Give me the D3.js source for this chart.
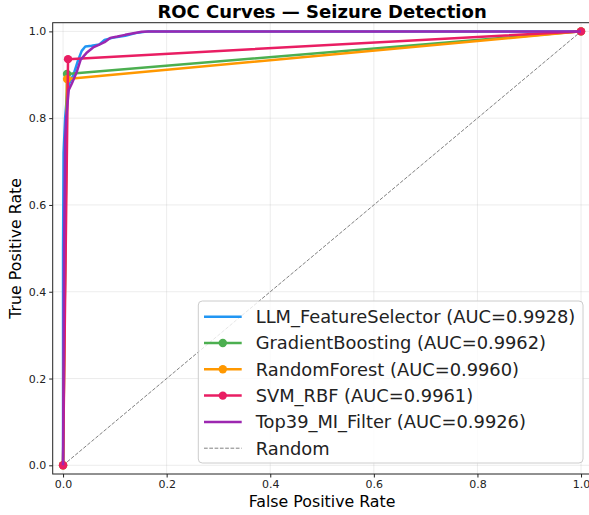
<!DOCTYPE html>
<html>
<head>
<meta charset="utf-8">
<script src="https://cdn.jsdelivr.net/npm/d3@7/dist/d3.min.js"></script>
<style>
  body { margin: 0; background: #fff; }
  text { font-family: "DejaVu Sans", sans-serif; }
</style>
</head>
<body>
<div id="chart"></div>
<script>
// model names and AUCs
const models = ["LLM_FeatureSelector", "GradientBoosting", "RandomForest", "SVM_RBF", "Top39_MI_Filter"]
const aucs = [0.9928, 0.9962, 0.9960, 0.9961, 0.9926]
const colors = ["#2196F3", "#4CAF50", "#FF9800", "#E91E63", "#9C27B0"]
const hasMarkers = [false, true, true, true, false]

// ROC points (fpr, tpr)
const llmFpr = [0, 0, 0.001, 0.004, 0.008, 0.012, 0.02, 0.028, 0.036, 0.043, 0.055, 0.07, 0.08, 0.095, 0.12, 0.14, 0.165, 1]
const llmTpr = [0, 0.5, 0.72, 0.8, 0.86, 0.88, 0.9, 0.93, 0.955, 0.965, 0.967, 0.97, 0.98, 0.985, 0.99, 0.996, 1, 1]
const gbFpr = [0, 0.0077, 1]
const gbTpr = [0, 0.902, 1]
const rfFpr = [0, 0.0077, 1]
const rfTpr = [0, 0.89, 1]
const svmFpr = [0, 0.0096, 1]
const svmTpr = [0, 0.936, 1]
const miFpr = [0, 0.002, 0.004, 0.006, 0.011, 0.017, 0.026, 0.034, 0.045, 0.058, 0.069, 0.08, 0.091, 0.105, 0.12, 0.152, 0.165, 1]
const miTpr = [0, 0.5, 0.75, 0.8, 0.865, 0.88, 0.905, 0.935, 0.95, 0.963, 0.969, 0.975, 0.985, 0.988, 0.992, 0.999, 1, 1]

const xTicks = [0, 0.2, 0.4, 0.6, 0.8, 1.0]
const yTicks = [0, 0.2, 0.4, 0.6, 0.8, 1.0]

const curves = [[llmFpr, llmTpr], [gbFpr, gbTpr], [rfFpr, rfTpr], [svmFpr, svmTpr], [miFpr, miTpr]]
  .map((c, i) => ({
    name: models[i], auc: aucs[i], color: colors[i], markers: hasMarkers[i],
    pts: c[0].map((f, j) => [f, c[1][j]])
  }))

const W = 589, H = 515
const MARGIN = { TOP: 22.7, LEFT: 52.7, RIGHT: 591.4, BOTTOM: 474 }

const svg = d3.select("#chart").append("svg")
  .attr("width", W).attr("height", H)

const x = d3.scaleLinear().domain([-0.02, 1.02]).range([MARGIN.LEFT, MARGIN.RIGHT])
const y = d3.scaleLinear().domain([-0.02, 1.02]).range([MARGIN.BOTTOM, MARGIN.TOP])

// grid
svg.append("g").selectAll("line").data(xTicks).join("line")
  .attr("x1", d => x(d)).attr("x2", d => x(d))
  .attr("y1", MARGIN.TOP).attr("y2", MARGIN.BOTTOM)
  .attr("stroke", "#b0b0b0").attr("stroke-opacity", 0.3).attr("stroke-width", 0.8)
svg.append("g").selectAll("line").data(yTicks).join("line")
  .attr("y1", d => y(d)).attr("y2", d => y(d))
  .attr("x1", MARGIN.LEFT).attr("x2", MARGIN.RIGHT)
  .attr("stroke", "#b0b0b0").attr("stroke-opacity", 0.3).attr("stroke-width", 0.8)

const plot = svg.append("g")

// random diagonal
plot.append("line")
  .attr("x1", x(0)).attr("y1", y(0)).attr("x2", x(1)).attr("y2", y(1))
  .attr("stroke", "#808080").attr("stroke-width", 1)
  .attr("stroke-dasharray", "3.7,1.6")

const line = d3.line().x(d => x(d[0])).y(d => y(d[1]))

curves.forEach(c => {
  plot.append("path")
    .attr("d", line(c.pts))
    .attr("fill", "none")
    .attr("stroke", c.color)
    .attr("stroke-width", 2.5)
    .attr("stroke-linejoin", "round")
  if (c.markers) {
    plot.selectAll(null).data(c.pts).join("circle")
      .attr("cx", d => x(d[0])).attr("cy", d => y(d[1]))
      .attr("r", 4.2).attr("fill", c.color)
  }
})

// axes spines
svg.append("rect")
  .attr("x", MARGIN.LEFT).attr("y", MARGIN.TOP)
  .attr("width", MARGIN.RIGHT - MARGIN.LEFT).attr("height", MARGIN.BOTTOM - MARGIN.TOP)
  .attr("fill", "none").attr("stroke", "#222").attr("stroke-width", 1)

const xAxis = svg.append("g")
  .attr("transform", `translate(0,${MARGIN.BOTTOM})`)
  .call(d3.axisBottom(x).tickValues(xTicks).tickFormat(d3.format(".1f")).tickSize(3.5).tickPadding(3))
const yAxis = svg.append("g")
  .attr("transform", `translate(${MARGIN.LEFT},0)`)
  .call(d3.axisLeft(y).tickValues(yTicks).tickFormat(d3.format(".1f")).tickSize(3.5).tickPadding(3))
;[xAxis, yAxis].forEach(a => {
  a.select(".domain").remove()
  a.selectAll("text").attr("font-size", 11).attr("fill", "#222").attr("font-family", "DejaVu Sans")
  a.selectAll("line").attr("stroke", "#222")
})

// titles
svg.append("text")
  .attr("x", (MARGIN.LEFT + MARGIN.RIGHT) / 2).attr("y", 18)
  .attr("text-anchor", "middle").attr("font-size", 18).attr("font-weight", "bold")
  .text("ROC Curves — Seizure Detection")
svg.append("text")
  .attr("x", (MARGIN.LEFT + MARGIN.RIGHT) / 2).attr("y", 507)
  .attr("text-anchor", "middle").attr("font-size", 15.8)
  .text("False Positive Rate")
svg.append("text")
  .attr("transform", `translate(21,${(MARGIN.TOP + MARGIN.BOTTOM) / 2}) rotate(-90)`)
  .attr("text-anchor", "middle").attr("font-size", 15.8)
  .text("True Positive Rate")

// legend
const legend = svg.append("g")
legend.append("rect")
  .attr("x", 198.3).attr("y", 301).attr("width", 384.7).attr("height", 162)
  .attr("rx", 4).attr("fill", "#fff").attr("fill-opacity", 0.8)
  .attr("stroke", "#ccc").attr("stroke-width", 1)

const legendItems = curves.map(c => ({ label: `${c.name} (AUC=${c.auc.toFixed(4)})`, color: c.color, markers: c.markers, dashed: false }))
legendItems.push({ label: "Random", color: "#808080", markers: false, dashed: true })

legendItems.forEach((d, i) => {
  const yy = 316.7 + i * 26.3
  legend.append("line")
    .attr("x1", 204).attr("x2", 241.7).attr("y1", yy).attr("y2", yy)
    .attr("stroke", d.color).attr("stroke-width", d.dashed ? 1 : 2.5)
    .attr("stroke-dasharray", d.dashed ? "3.7,1.6" : null)
  if (d.markers) {
    legend.append("circle").attr("cx", 222.8).attr("cy", yy).attr("r", 4.2).attr("fill", d.color)
  }
  legend.append("text")
    .attr("x", 255.7).attr("y", yy + 6.3)
    .attr("font-size", 17.85).attr("fill", "#222")
    .text(d.label)
})
</script>
</body>
</html>
